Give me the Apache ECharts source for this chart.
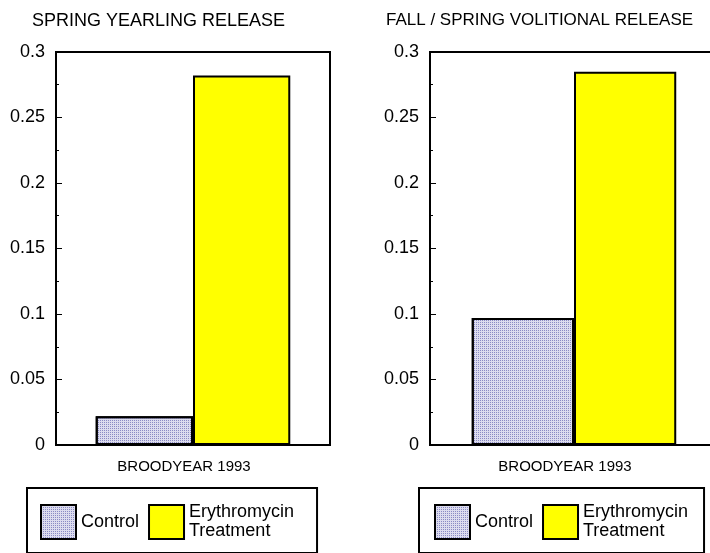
<!DOCTYPE html>
<html><head><meta charset="utf-8">
<script src="https://cdn.jsdelivr.net/npm/echarts@6/dist/echarts.min.js"></script>
<style>html,body{margin:0;padding:0;background:#fff;}#c{width:710px;height:553px;}</style>
</head><body><div id="c"></div>
<script>
const panelTitles = ['SPRING YEARLING RELEASE', 'FALL / SPRING VOLITIONAL RELEASE'];
const categories = ['BROODYEAR 1993'];
const seriesNames = ['Control', 'Erythromycin\nTreatment'];
const controlValues = [0.022, 0.097];
const erythroValues = [0.282, 0.285];
const yTicks = [0, 0.05, 0.1, 0.15, 0.2, 0.25, 0.3];

const FONT = '"Liberation Sans", Arial, sans-serif';
const grids = [
  {left: 56, top: 52, width: 274, height: 393},
  {left: 430, top: 52, width: 288, height: 393}
];
const titleLefts = [32, 386];
const titleSizes = [18, 17];
const legendLefts = [27, 419];
const legendPads = [[15, 23, 12, 13], [15, 16, 12, 15]];

const controlDecal = {symbol: 'rect', symbolSize: 1, color: '#8a8ac4',
  dashArrayX: [1, 1], dashArrayY: [1, 1], rotation: 0};
const colors = ['#dcdcee', '#ffff00'];
const option = {
  animation: false,
  backgroundColor: '#fff',
  title: panelTitles.map((t, i) => ({
    text: t, left: titleLefts[i], top: 12, padding: 0,
    textStyle: {fontFamily: FONT, fontSize: titleSizes[i], fontWeight: 'normal', color: '#000'}
  })),
  grid: grids.map(g => Object.assign({show: true, borderColor: '#000', borderWidth: 2,
    backgroundColor: 'transparent', outerBoundsMode: 'none', containLabel: false}, g)),
  legend: [0, 1].map(i => ({
    left: legendLefts[i], top: 488, width: 262, orient: 'horizontal',
    data: seriesNames,
    itemWidth: 35, itemHeight: 34, itemGap: 9,
    padding: legendPads[i],
    borderColor: '#000', borderWidth: 2,
    icon: 'rect',
    selectedMode: false,
    textStyle: {fontFamily: FONT, fontSize: 18, color: '#000', lineHeight: 19}
  })),
  xAxis: [0, 1].map(i => ({
    type: 'category', gridIndex: i, data: categories,
    axisLine: {lineStyle: {color: '#000', width: 2}},
    axisTick: {show: false},
    axisLabel: {fontFamily: FONT, fontSize: 15, color: '#000', margin: 14, padding: [0, 18, 0, 0]}
  })),
  yAxis: [0, 1].map(i => ({
    type: 'value', gridIndex: i, min: 0, max: 0.3, interval: 0.05,
    axisLine: {show: true, lineStyle: {color: '#000', width: 2}},
    axisTick: {show: true, inside: true, length: 6, lineStyle: {color: '#000', width: 1}},
    minorTick: {show: true, splitNumber: 2, length: 3, lineStyle: {color: '#000', width: 1}},
    splitLine: {show: false},
    axisLabel: {fontFamily: FONT, fontSize: 18, color: '#000', margin: 11,
      formatter: v => String(+v.toFixed(3))}
  })),
  series: [0, 1].flatMap(i => [
    {name: seriesNames[0], type: 'bar', xAxisIndex: i, yAxisIndex: i, data: [controlValues[i]],
     barGap: 0, barCategoryGap: '29%',
     itemStyle: {color: colors[0], borderColor: '#000', borderWidth: 2, decal: controlDecal}},
    {name: seriesNames[1], type: 'bar', xAxisIndex: i, yAxisIndex: i, data: [erythroValues[i]],
     barGap: 0, barCategoryGap: '29%',
     itemStyle: {color: colors[1], borderColor: '#000', borderWidth: 2}}
  ])
};
const chart = echarts.init(document.getElementById('c'), null, {renderer: 'canvas'});
chart.setOption(option);
</script></body></html>
